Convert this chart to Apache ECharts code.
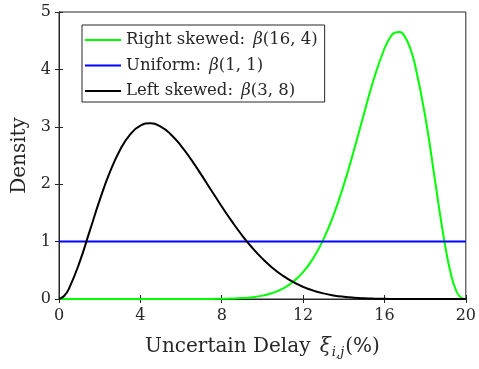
<!DOCTYPE html>
<html>
<head>
<meta charset="utf-8">
<script src="https://cdn.jsdelivr.net/npm/echarts@6/dist/echarts.min.js"></script>
<style>
  html, body { margin: 0; padding: 0; background: #fff; }
  #chart { width: 479px; height: 369px; }
</style>
</head>
<body>
<div id="chart"></div>
<script>
// Beta densities over the delay range 0–20 %
const rightX = [0, 2, 4, 6, 7, 7.5, 8, 8.5, 9, 9.5, 10, 10.5, 11, 11.5, 12, 12.5, 13, 13.5, 14, 14.5, 15, 15.5, 16, 16.25, 16.5, 16.75, 17, 17.25, 17.5, 18, 18.5, 18.75, 19, 19.25, 19.5, 19.75, 20];
const rightY = [0, 0, 0, 0.0001, 0.0006, 0.0015, 0.0036, 0.0079, 0.0162, 0.0317, 0.0591, 0.1054, 0.1801, 0.2956, 0.4665, 0.7091, 1.0383, 1.4644, 1.9874, 2.5913, 3.2372, 3.8595, 4.3640, 4.5373, 4.6383, 4.6535, 4.5709, 4.3822, 4.0860, 3.1921, 2.0312, 1.4376, 0.8979, 0.4608, 0.1657, 0.0251, 0];

const uniformX = [0, 20];
const uniformY = [1, 1];

const leftX = [0, 0.25, 0.5, 1, 1.5, 2, 2.5, 3, 3.5, 4, 4.5, 5, 5.5, 6, 6.5, 7, 7.5, 8, 8.5, 9, 9.5, 10, 10.5, 11, 11.5, 12, 12.5, 13, 13.5, 14, 14.5, 15, 15.5, 16, 16.5, 17, 17.5, 18, 20];
const leftY = [0, 0.0515, 0.1885, 0.6285, 1.1733, 1.7219, 2.2089, 2.5969, 2.8676, 3.0199, 3.0609, 3.0034, 2.8668, 2.6683, 2.4279, 2.1618, 1.8858, 1.6124, 1.3514, 1.1098, 0.8927, 0.7031, 0.5410, 0.4069, 0.2979, 0.2123, 0.1466, 0.0978, 0.0628, 0.0386, 0.0225, 0.0124, 0.0063, 0.0030, 0.0012, 0.0004, 0.0001, 0, 0];

const xTicks = { min: 0, max: 20, interval: 4 };
const yTicks = { min: 0, max: 5, interval: 1 };

const legendNames = ['Right skewed', 'Uniform', 'Left skewed'];
const legendParams = ['(16, 4)', '(1, 1)', '(3, 8)'];

const FONT = '"DejaVu Serif", "Liberation Serif", serif';
const INK = '#262626';

const pairs = (xs, ys) => xs.map((x, i) => [x, ys[i]]);

const chart = echarts.init(document.getElementById('chart'), null, { renderer: 'canvas' });

const axisCommon = {
  type: 'value',
  axisLine: { show: true, lineStyle: { color: INK, width: 1 } },
  axisTick: { show: true, inside: true, length: 4, lineStyle: { color: INK } },
  splitLine: { show: false }
};

chart.setOption({
  animation: false,
  backgroundColor: '#fff',
  grid: {
    left: 59, right: 12, top: 12, bottom: 70,
    show: true, borderColor: INK, borderWidth: 1, backgroundColor: 'transparent'
  },
  legend: {
    orient: 'vertical',
    left: 82, top: 25,
    backgroundColor: '#fff',
    borderColor: INK, borderWidth: 1, borderRadius: 0,
    padding: [5, 7, 1, 3],
    itemGap: 5.5,
    icon: 'rect',
    itemWidth: 36, itemHeight: 2,
    data: legendNames,
    formatter: function (name) {
      const i = legendNames.indexOf(name);
      return name + ': {b|β}' + legendParams[i];
    },
    textStyle: {
      fontFamily: FONT, fontSize: 16.5, color: INK, lineHeight: 20,
      rich: { b: { fontFamily: FONT, fontSize: 16.5, fontStyle: 'italic', color: INK, lineHeight: 20, padding: [0, 0, 0, 3] } }
    }
  },
  xAxis: [
    Object.assign({}, axisCommon, {
      min: xTicks.min, max: xTicks.max, interval: xTicks.interval,
      position: 'bottom',
      axisLabel: { color: INK, fontFamily: FONT, fontSize: 16, margin: 9 },
      name: 'Uncertain Delay {x|ξ}{s|i,j}(%)',
      nameLocation: 'middle', nameGap: 36,
      nameTextStyle: {
        fontFamily: FONT, fontSize: 20, color: INK, verticalAlign: 'top',
        rich: {
          x: { fontFamily: FONT, fontSize: 20, fontStyle: 'italic', color: INK, padding: [0, 1, 0, 3] },
          s: { fontFamily: FONT, fontSize: 13, fontStyle: 'italic', color: INK, padding: [11, 1, 0, 0] }
        }
      }
    }),
    Object.assign({}, axisCommon, {
      min: xTicks.min, max: xTicks.max, interval: xTicks.interval,
      position: 'top',
      axisLabel: { show: false }
    })
  ],
  yAxis: [
    Object.assign({}, axisCommon, {
      min: yTicks.min, max: yTicks.max, interval: yTicks.interval,
      position: 'left',
      axisLabel: { color: INK, fontFamily: FONT, fontSize: 16, margin: 8 },
      name: 'Density',
      nameLocation: 'middle', nameGap: 29,
      nameTextStyle: { fontFamily: FONT, fontSize: 20, color: INK }
    }),
    Object.assign({}, axisCommon, {
      min: yTicks.min, max: yTicks.max, interval: yTicks.interval,
      position: 'right',
      axisLabel: { show: false }
    })
  ],
  series: [
    {
      name: legendNames[0], type: 'line', data: pairs(rightX, rightY),
      showSymbol: false, symbol: 'none', smooth: 0.5,
      lineStyle: { color: '#00ff00', width: 2 }, itemStyle: { color: '#00ff00' }
    },
    {
      name: legendNames[1], type: 'line', data: pairs(uniformX, uniformY),
      showSymbol: false, symbol: 'none',
      lineStyle: { color: '#0000ff', width: 2 }, itemStyle: { color: '#0000ff' }
    },
    {
      name: legendNames[2], type: 'line', data: pairs(leftX, leftY),
      showSymbol: false, symbol: 'none', smooth: 0.5,
      lineStyle: { color: '#000000', width: 2 }, itemStyle: { color: '#000000' }
    }
  ]
});
</script>
</body>
</html>
